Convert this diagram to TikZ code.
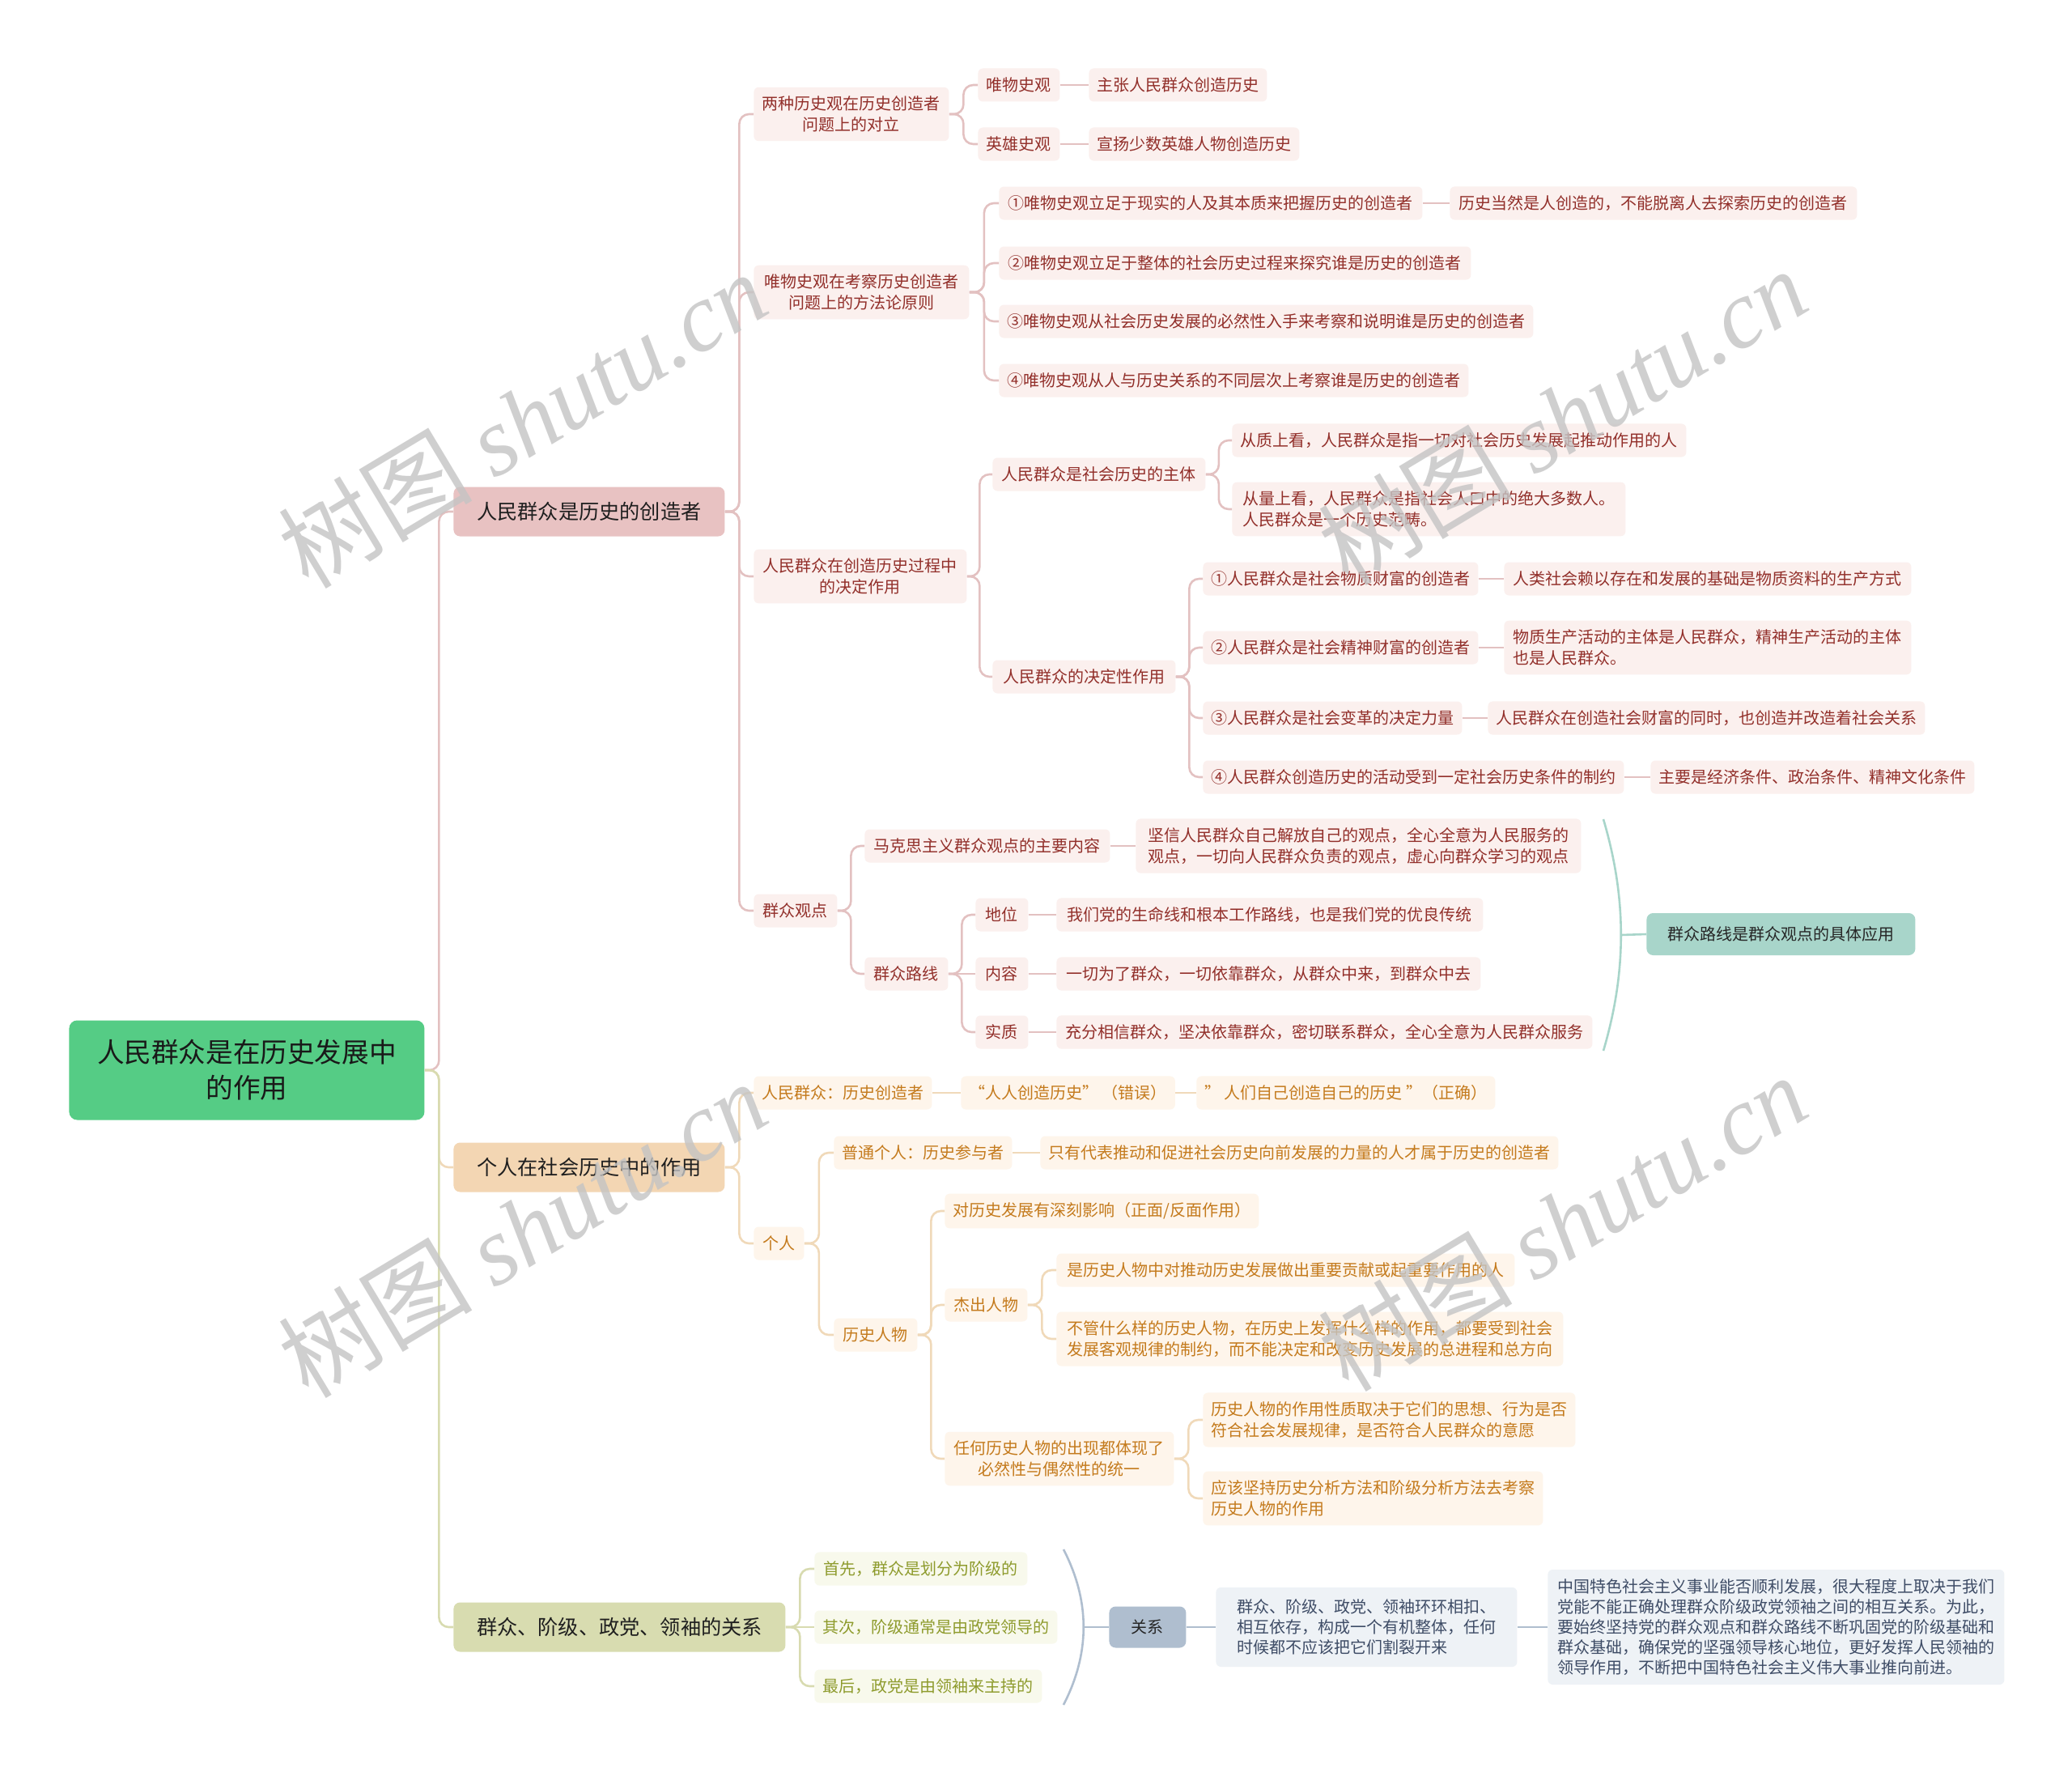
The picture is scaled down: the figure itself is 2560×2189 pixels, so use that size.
\documentclass[tikz,border=0pt]{standalone}
\usepackage{fontspec}
\setmainfont{Noto Sans CJK SC}
\newfontfamily\wmlatin{Liberation Serif}
\usetikzlibrary{calc}
\definecolor{redtxt}{HTML}{922F2A}
\definecolor{redfill}{HTML}{FBF0EE}
\definecolor{redline}{HTML}{E3C1C1}
\definecolor{redLone}{HTML}{E8C2C2}
\definecolor{orgtxt}{HTML}{C47A1C}
\definecolor{orgfill}{HTML}{FEF5EB}
\definecolor{orgline}{HTML}{F0D9B9}
\definecolor{orgLone}{HTML}{F3D6B3}
\definecolor{olvtxt}{HTML}{8E9B2D}
\definecolor{olvfill}{HTML}{F8F9EC}
\definecolor{olvline}{HTML}{D8DBB0}
\definecolor{olvLone}{HTML}{D8DCB0}
\definecolor{bluefill}{HTML}{AFBECF}
\definecolor{bluedet}{HTML}{EEF2F6}
\definecolor{bluetxt}{HTML}{3E4C66}
\definecolor{tealfill}{HTML}{A8D5CA}
\definecolor{rootgreen}{HTML}{55CC85}
\definecolor{wmgray}{HTML}{C4C4C4}
\newcommand\linkc[3]{\draw[#1] let \p1=(#2.east), \p2=(#3.west) in (\p1) -- ({(\x1+\x2)/2},\y1) |- (\p2);}
\newcommand\links[3]{\draw[#1] (#2.east) -- (#3.west);}
\begin{document}
\begin{tikzpicture}[x=0.5pt,y=-0.5pt,
  basenode/.style={rounded corners=3pt, inner xsep=5pt, inner ysep=5.5pt, anchor=west,
    minimum height=20.5pt, font=\fontsize{10}{13}\selectfont, align=center},
  rnode/.style={basenode, fill=redfill, text=redtxt},
  onode/.style={basenode, fill=orgfill, text=orgtxt},
  vnode/.style={basenode, fill=olvfill, text=olvtxt},
  bnode/.style={basenode, fill=bluedet, text=bluetxt, font=\fontsize{10}{12.6}\selectfont, align=left},
  lonenode/.style={rounded corners=4pt, anchor=west, minimum height=30.5pt, minimum width=167.5pt,
    font=\fontsize{12.6}{16}\selectfont, text=black!88, align=center},
  rootnode/.style={rounded corners=5pt, anchor=west, fill=rootgreen, minimum width=219.5pt,
    minimum height=61.5pt, font=\fontsize{16.8}{22}\selectfont, text=black!90, align=center},
  tealnode/.style={rounded corners=4pt, anchor=west, fill=tealfill, minimum width=166pt,
    minimum height=26pt, font=\fontsize{10}{13}\selectfont, text=black!85},
  relnode/.style={rounded corners=4pt, anchor=west, fill=bluefill, minimum width=47.5pt,
    minimum height=25.5pt, font=\fontsize{10}{13}\selectfont, text=black!85},
  conn/.style={line width=1.3pt, rounded corners=6pt},
  rc/.style={conn, draw=redline},
  oc/.style={conn, draw=orgline},
  vc/.style={conn, draw=olvline},
  bc/.style={conn, draw=bluefill},
  tc/.style={conn, draw=tealfill},
  wm/.style={font=\fontsize{60}{60}\selectfont, text=wmgray, text opacity=0.8, rotate=31}
]
\fill[white] (0,0) rectangle (2560,2189);
\useasboundingbox (0,0) rectangle (2560,2189);

% root and level 1
\node[rootnode] (R) at (85,1322) {人民群众是在历史发展中\\的作用};
\node[lonenode, fill=redLone] (A) at (560,632) {人民群众是历史的创造者};
\node[lonenode, fill=orgLone] (B) at (560,1442) {个人在社会历史中的作用};
\node[lonenode, fill=olvLone, minimum width=205pt] (C) at (560,2010) {群众、阶级、政党、领袖的关系};

% red branch
\node[rnode, minimum width=120.5pt] (a1) at (931,141) {两种历史观在历史创造者\\问题上的对立};
\node[rnode, minimum width=50.5pt] (a11) at (1208,105) {唯物史观};
\node[rnode, minimum width=109.5pt] (a111) at (1345,105) {主张人民群众创造历史};
\node[rnode, minimum width=50.5pt] (a12) at (1208,178) {英雄史观};
\node[rnode, minimum width=130pt] (a121) at (1345,178) {宣扬少数英雄人物创造历史};
\node[rnode, minimum width=133pt] (a2) at (931,361) {唯物史观在考察历史创造者\\问题上的方法论原则};
\node[rnode, minimum width=261.5pt] (a21) at (1234,251) {①唯物史观立足于现实的人及其本质来把握历史的创造者};
\node[rnode, minimum width=251.5pt] (a211) at (1791,251) {历史当然是人创造的，不能脱离人去探索历史的创造者};
\node[rnode, minimum width=291.5pt] (a22) at (1234,325) {②唯物史观立足于整体的社会历史过程来探究谁是历史的创造者};
\node[rnode, minimum width=327.5pt] (a23) at (1234,397) {③唯物史观从社会历史发展的必然性入手来考察和说明谁是历史的创造者};
\node[rnode, minimum width=289pt] (a24) at (1234,470) {④唯物史观从人与历史关系的不同层次上考察谁是历史的创造者};
\node[rnode, minimum width=131.5pt] (a3) at (931,712) {人民群众在创造历史过程中\\的决定作用};
\node[rnode, minimum width=131.5pt] (a31) at (1226,586) {人民群众是社会历史的主体};
\node[rnode, minimum width=280.5pt] (a311) at (1522,544) {从质上看，人民群众是指一切对社会历史发展起推动作用的人};
\node[rnode, align=left, minimum width=243pt] (a312) at (1522,629) {从量上看，人民群众是指社会人口中的绝大多数人。\\人民群众是一个历史范畴。};
\node[rnode, minimum width=113pt] (a32) at (1226,836) {人民群众的决定性作用};
\node[rnode, minimum width=169.5pt] (a321) at (1486,715) {①人民群众是社会物质财富的创造者};
\node[rnode, minimum width=251.5pt] (a3211) at (1858,715) {人类社会赖以存在和发展的基础是物质资料的生产方式};
\node[rnode, minimum width=169.5pt] (a322) at (1486,800) {②人民群众是社会精神财富的创造者};
\node[rnode, align=left, minimum width=251.5pt] (a3221) at (1858,800) {物质生产活动的主体是人民群众，精神生产活动的主体\\也是人民群众。};
\node[rnode, minimum width=160pt] (a323) at (1486,887) {③人民群众是社会变革的决定力量};
\node[rnode, minimum width=269.5pt] (a3231) at (1838,887) {人民群众在创造社会财富的同时，也创造并改造着社会关系};
\node[rnode, minimum width=259.5pt] (a324) at (1486,960) {④人民群众创造历史的活动受到一定社会历史条件的制约};
\node[rnode, minimum width=198.5pt] (a3241) at (2039,960) {主要是经济条件、政治条件、精神文化条件};
\node[rnode, minimum width=51.5pt] (a4) at (931,1125) {群众观点};
\node[rnode, minimum width=151.5pt] (a41) at (1068,1045) {马克思主义群众观点的主要内容};
\node[rnode, align=left, minimum width=275pt] (a411) at (1403,1045) {坚信人民群众自己解放自己的观点，全心全意为人民服务的\\观点，一切向人民群众负责的观点，虚心向群众学习的观点};
\node[rnode, minimum width=51.5pt] (a42) at (1068,1203) {群众路线};
\node[rnode, minimum width=32.5pt] (a421) at (1205,1130) {地位};
\node[rnode, minimum width=263.5pt] (a4211) at (1305,1130) {我们党的生命线和根本工作路线，也是我们党的优良传统};
\node[rnode, minimum width=32.5pt] (a422) at (1205,1203) {内容};
\node[rnode, minimum width=262pt] (a4221) at (1305,1203) {一切为了群众，一切依靠群众，从群众中来，到群众中去};
\node[rnode, minimum width=32.5pt] (a423) at (1205,1275) {实质};
\node[rnode, minimum width=331pt] (a4231) at (1305,1275) {充分相信群众，坚决依靠群众，密切联系群众，全心全意为人民群众服务};
\node[tealnode] (tl) at (2034,1154) {群众路线是群众观点的具体应用};

% orange branch
\node[onode, minimum width=110pt] (b1) at (931,1350) {人民群众：历史创造者};
\node[onode, minimum width=128pt] (b11) at (1187,1350) {“人人创造历史” （错误）};
\node[onode, minimum width=181pt] (b111) at (1478,1350) {" 人们自己创造自己的历史 "（正确）};
\node[onode, minimum width=31pt] (b2) at (931,1536) {个人};
\node[onode, minimum width=108.5pt] (b21) at (1030,1424) {普通个人：历史参与者};
\node[onode, minimum width=317.5pt] (b211) at (1285,1424) {只有代表推动和促进社会历史向前发展的力量的人才属于历史的创造者};
\node[onode, minimum width=51.5pt] (b22) at (1030,1649) {历史人物};
\node[onode, minimum width=192pt] (b221) at (1167,1496) {对历史发展有深刻影响（正面/反面作用）};
\node[onode, minimum width=51pt] (b222) at (1167,1612) {杰出人物};
\node[onode, minimum width=283pt] (b2221) at (1305,1569) {是历史人物中对推动历史发展做出重要贡献或起重要作用的人};
\node[onode, align=left, minimum width=313pt] (b2222) at (1305,1654) {不管什么样的历史人物，在历史上发挥什么样的作用，都要受到社会\\发展客观规律的制约，而不能决定和改变历史发展的总进程和总方向};
\node[onode, minimum width=141.5pt] (b223) at (1167,1802) {任何历史人物的出现都体现了\\必然性与偶然性的统一};
\node[onode, align=left, minimum width=230pt] (b2231) at (1486,1754) {历史人物的作用性质取决于它们的思想、行为是否\\符合社会发展规律，是否符合人民群众的意愿};
\node[onode, align=left, minimum width=208pt] (b2232) at (1486,1851) {应该坚持历史分析方法和阶级分析方法去考察\\历史人物的作用};

% olive branch
\node[vnode, minimum width=131.5pt] (c1) at (1006,1938) {首先，群众是划分为阶级的};
\node[vnode, minimum width=150pt] (c2) at (1006,2010) {其次，阶级通常是由政党领导的};
\node[vnode, minimum width=140.5pt] (c3) at (1006,2083) {最后，政党是由领袖来主持的};
\node[relnode] (rel) at (1370,2010) {关系};
\node[bnode, inner xsep=13pt, minimum width=186pt, minimum height=49pt] (rel1) at (1502,2010) {群众、阶级、政党、领袖环环相扣、\\相互依存，构成一个有机整体，任何\\时候都不应该把它们割裂开来};
\node[bnode, inner xsep=6pt, minimum width=281.5pt, minimum height=71pt] (rel2) at (1912,2010) {中国特色社会主义事业能否顺利发展，很大程度上取决于我们\\党能不能正确处理群众阶级政党领袖之间的相互关系。为此，\\要始终坚持党的群众观点和群众路线不断巩固党的阶级基础和\\群众基础，确保党的坚强领导核心地位，更好发挥人民领袖的\\领导作用，不断把中国特色社会主义伟大事业推向前进。};

% connectors
\linkc{rc}{R}{A}
\linkc{oc}{R}{B}
\linkc{vc}{R}{C}
\linkc{rc}{A}{a1}
\linkc{rc}{A}{a2}
\linkc{rc}{A}{a3}
\linkc{rc}{A}{a4}
\linkc{rc}{a1}{a11}
\linkc{rc}{a1}{a12}
\links{rc}{a11}{a111}
\links{rc}{a12}{a121}
\linkc{rc}{a2}{a21}
\linkc{rc}{a2}{a22}
\linkc{rc}{a2}{a23}
\linkc{rc}{a2}{a24}
\links{rc}{a21}{a211}
\linkc{rc}{a3}{a31}
\linkc{rc}{a3}{a32}
\linkc{rc}{a31}{a311}
\linkc{rc}{a31}{a312}
\linkc{rc}{a32}{a321}
\linkc{rc}{a32}{a322}
\linkc{rc}{a32}{a323}
\linkc{rc}{a32}{a324}
\links{rc}{a321}{a3211}
\links{rc}{a322}{a3221}
\links{rc}{a323}{a3231}
\links{rc}{a324}{a3241}
\linkc{rc}{a4}{a41}
\linkc{rc}{a4}{a42}
\links{rc}{a41}{a411}
\linkc{rc}{a42}{a421}
\links{rc}{a42}{a422}
\linkc{rc}{a42}{a423}
\links{rc}{a421}{a4211}
\links{rc}{a422}{a4221}
\links{rc}{a423}{a4231}
\coordinate (tbt) at (1981,1012);
\coordinate (tbb) at (1981,1298);
\coordinate (tbm) at (2003,1155);
\draw[tc] (tbt) .. controls (2010,1110) and (2010,1200) .. (tbb);
\draw[tc] (tbm) -- (tl.west);

\linkc{oc}{B}{b1}
\linkc{oc}{B}{b2}
\links{oc}{b1}{b11}
\links{oc}{b11}{b111}
\linkc{oc}{b2}{b21}
\linkc{oc}{b2}{b22}
\links{oc}{b21}{b211}
\linkc{oc}{b22}{b221}
\linkc{oc}{b22}{b222}
\linkc{oc}{b22}{b223}
\linkc{oc}{b222}{b2221}
\linkc{oc}{b222}{b2222}
\linkc{oc}{b223}{b2231}
\linkc{oc}{b223}{b2232}

\linkc{vc}{C}{c1}
\links{vc}{C}{c2}
\linkc{vc}{C}{c3}
\coordinate (cbt) at (1314,1914);
\coordinate (cbb) at (1314,2106);
\coordinate (cbm) at (1339,2010);
\draw[bc] (cbt) .. controls (1347,1978) and (1347,2042) .. (cbb);
\draw[bc] (cbm) -- (rel.west);
\links{bc}{rel}{rel1}
\links{bc}{rel1}{rel2}

% watermarks
\node[wm] (wm1) at (645,518) {树图 {\wmlatin\itshape shutu.cn}};
\node[wm] (wm2) at (1930,514) {树图 {\wmlatin\itshape shutu.cn}};
\node[wm] (wm3) at (645,1518) {树图 {\wmlatin\itshape shutu.cn}};
\node[wm] (wm4) at (1930,1510) {树图 {\wmlatin\itshape shutu.cn}};
\end{tikzpicture}
\end{document}
